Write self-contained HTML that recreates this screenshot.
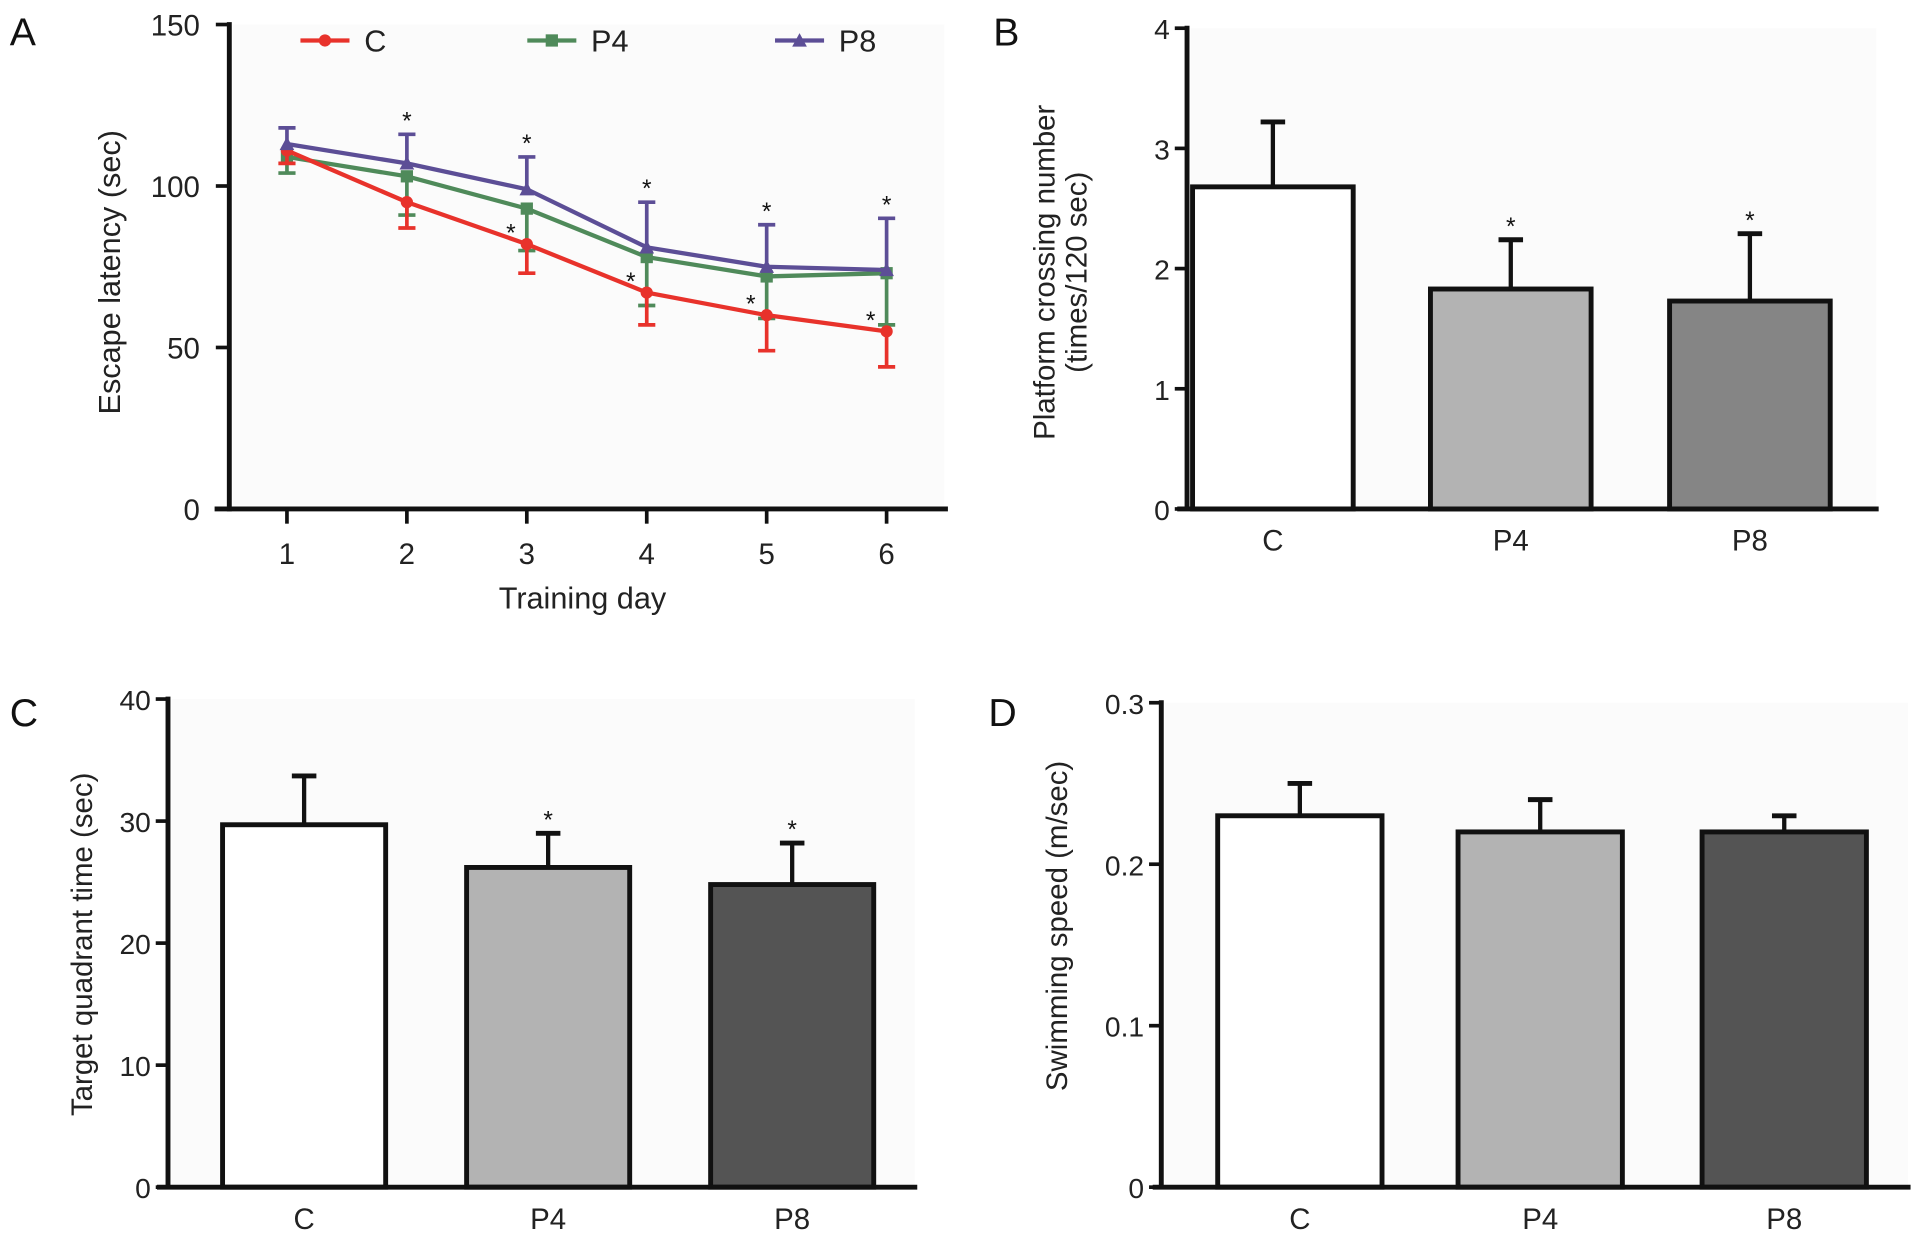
<!DOCTYPE html>
<html><head><meta charset="utf-8"><style>
html,body{margin:0;padding:0;background:#fff;}
svg{display:block;font-family:"Liberation Sans",Arial,sans-serif;}
</style></head><body>
<svg id="fig" width="1913" height="1235" viewBox="0 0 1560 1007" preserveAspectRatio="none" xmlns="http://www.w3.org/2000/svg"></svg>
<script>
// Panel A data
const days = [1,2,3,4,5,6];
const cMean = [111,95,82,67,60,55];
const cErr  = [4,8,9,10,11,11];
const p4Mean = [109,103,93,78,72,73];
const p4Err  = [5,12,13,15,13,16];
const p8Mean = [113,107,99,81,75,74];
const p8Err  = [5,9,10,14,13,16];
const latTicks = [0,50,100,150];
const starsP8Days = [2,3,4,5,6];
const starsCDays = [3,4,5,6];
// Panel B data
const groups = ["C","P4","P8"];
const crossMean = [2.68,1.83,1.73];
const crossErr = [0.54,0.41,0.56];
const crossTicks = [0,1,2,3,4];
const crossStars = [false,true,true];
// Panel C data
const quadMean = [29.7,26.2,24.8];
const quadErr = [4.0,2.8,3.4];
const quadTicks = [0,10,20,30,40];
const quadStars = [false,true,true];
// Panel D data
const speedMean = [0.23,0.22,0.22];
const speedErr = [0.02,0.02,0.01];
const speedTicks = ["0","0.1","0.2","0.3"];
const speedStars = [false,false,false];

const svg = document.getElementById('fig');
const NS = 'http://www.w3.org/2000/svg';
function mk(tag, attrs, parent){const e=document.createElementNS(NS,tag);for(const k in attrs)e.setAttribute(k,attrs[k]);(parent||svg).appendChild(e);return e;}
function txt(s, attrs, parent){const e=mk('text',attrs,parent);e.textContent=s;return e;}

// ---------- Panel A ----------
const A = {x0:187, yTop:20, yBot:415, xs:[234,332,430,527,625,723]};
const ax = d => A.xs[0] + (d-1)*(A.xs[5]-A.xs[0])/5;
const ay = v => A.yBot - v/150*(A.yBot-A.yTop);
const gA = mk('g',{});


mk('rect',{x:190,y:20,width:580,height:392,fill:'#fbfbfb'},gA);
let t = txt('A',{x:8,y:37,'font-size':32,fill:'#111'},gA);

let l = mk('line',{x1:A.x0,y1:A.yTop-2,x2:A.x0,y2:A.yBot+2,stroke:'#111','stroke-width':4},gA);

l = mk('line',{x1:175,y1:A.yBot,x2:773,y2:A.yBot,stroke:'#111','stroke-width':4},gA);

latTicks.forEach(v=>{
  mk('line',{x1:176,y1:ay(v),x2:A.x0,y2:ay(v),stroke:'#111','stroke-width':3},gA);
  const e=txt(String(v),{x:163,y:ay(v)+9,'text-anchor':'end','font-size':24,fill:'#222'},gA);
  
  
});
days.forEach(d=>{
  mk('line',{x1:ax(d),y1:A.yBot,x2:ax(d),y2:A.yBot+12,stroke:'#111','stroke-width':3},gA);
  const e=txt(String(d),{x:ax(d),y:460,'text-anchor':'middle','font-size':24,fill:'#222'},gA);
  
  
});
t=txt('Training day',{x:475,y:496,'text-anchor':'middle','font-size':25,fill:'#222'},gA);

t=txt('Escape latency (sec)',{x:0,y:0,'text-anchor':'middle','font-size':25,fill:'#222',transform:'translate(98,222) rotate(-90)'},gA);


function series(mean, err, dir, color, marker, name){
  const g = mk('g',{},gA);
  
  
  days.forEach((d,i)=>{
    const y2 = ay(mean[i] + dir*err[i]);
    mk('line',{x1:ax(d),y1:ay(mean[i]),x2:ax(d),y2:y2,stroke:color,'stroke-width':3},g);
    mk('line',{x1:ax(d)-7,y1:y2,x2:ax(d)+7,y2:y2,stroke:color,'stroke-width':3},g);
  });
  mk('polyline',{points:days.map((d,i)=>ax(d)+','+ay(mean[i])).join(' '),fill:'none',stroke:color,'stroke-width':3.5},g);
  days.forEach((d,i)=>{
    const x=ax(d), y=ay(mean[i]);
    if(marker==='circle') mk('circle',{cx:x,cy:y,r:5,fill:color},g);
    else if(marker==='square') mk('rect',{x:x-5,y:y-5,width:10,height:10,fill:color},g);
    else mk('polygon',{points:`${x},${y-6} ${x-6},${y+5} ${x+6},${y+5}`,fill:color},g);
  });
}
series(p4Mean,p4Err,-1,'#4f8a5a','square','series-p4');
series(cMean,cErr,-1,'#e8322b','circle','series-c');
series(p8Mean,p8Err,1,'#5c4e96','triangle','series-p8');
starsP8Days.forEach(d=>{
  const i=d-1;
  const e=txt('*',{x:ax(d),y:ay(p8Mean[i]+p8Err[i])-4,'text-anchor':'middle','font-size':20,fill:'#111'},gA);
  
  
});
starsCDays.forEach(d=>{
  const i=d-1;
  const e=txt('*',{x:ax(d)-13,y:ay(cMean[i])-2,'text-anchor':'middle','font-size':20,fill:'#111'},gA);
  
  
});
// legend
[['C','#e8322b','circle',245],['P4','#4f8a5a','square',430],['P8','#5c4e96','triangle',632]].forEach(([n,c,m,x])=>{
  const g=mk('g',{},gA);
  
  
  mk('line',{x1:x,y1:33,x2:x+40,y2:33,stroke:c,'stroke-width':3.5},g);
  const cx=x+20;
  if(m==='circle') mk('circle',{cx:cx,cy:33,r:5,fill:c},g);
  else if(m==='square') mk('rect',{x:cx-5,y:28,width:10,height:10,fill:c},g);
  else mk('polygon',{points:`${cx},27 ${cx-6},38 ${cx+6},38`,fill:c},g);
  txt(n,{x:x+52,y:42,'font-size':25,fill:'#222'},g);
});

// ---------- Bar panels ----------
function barPanel(o){
  const g = mk('g',{});
  
  
  const y = v => o.yBot - v/o.max*(o.yBot-o.yTop);
  mk('rect',{x:o.x0+3,y:o.yTop,width:o.xEnd-o.x0-5,height:o.yBot-o.yTop-2,fill:'#fbfbfb'},g);
  let e=txt(o.letter,{x:o.lx,y:o.ly,'font-size':32,fill:'#111'},g);
  
  o.ticks.forEach(tv=>{
    const v=parseFloat(tv);
    mk('line',{x1:o.x0-10,y1:y(v),x2:o.x0,y2:y(v),stroke:'#111','stroke-width':3},g);
    const e2=txt(String(tv),{x:o.x0-14,y:y(v)+9,'text-anchor':'end','font-size':23,fill:'#222'},g);
    
    
  });
  const bw=o.bw;
  o.mean.forEach((m,i)=>{
    const cx=o.cx[i];
    const top=y(m), et=y(m+o.err[i]);
    mk('line',{x1:cx,y1:top,x2:cx,y2:et,stroke:'#111','stroke-width':3.5},g);
    mk('line',{x1:cx-10,y1:et,x2:cx+10,y2:et,stroke:'#111','stroke-width':4},g);
    const r=mk('rect',{x:cx-bw/2,y:top,width:bw,height:o.yBot-top,fill:o.fills[i],stroke:'#111','stroke-width':4},g);
    
    
    if(o.stars[i]){
      const s=txt('*',{x:cx,y:et-4,'text-anchor':'middle','font-size':20,fill:'#111'},g);
      
      
    }
    const lb=txt(groups[i],{x:cx,y:o.yBot+34,'text-anchor':'middle','font-size':24,fill:'#222'},g);
    
    
  });
  e=mk('line',{x1:o.x0,y1:o.yTop-2,x2:o.x0,y2:o.yBot,stroke:'#111','stroke-width':4},g);
  
  e=mk('line',{x1:o.xStart,y1:o.yBot,x2:o.xEnd,y2:o.yBot,stroke:'#111','stroke-width':4},g);
  
  o.titles.forEach((tt,k)=>{
    const e3=txt(tt,{x:0,y:0,'text-anchor':'middle','font-size':24,fill:'#222',transform:`translate(${o.tx+k*26},${o.ty}) rotate(-90)`},g);
    
    
  });
}
barPanel({name:'panel-b-crossing-chart',letter:'B',lx:810,ly:37,x0:968,yTop:23,yBot:415,max:4,xStart:960,xEnd:1532,
  cx:[1038,1232,1427],bw:131,mean:crossMean,err:crossErr,ticks:crossTicks,stars:crossStars,
  fills:['#ffffff','#b3b3b3','#858585'],titles:['Platform crossing number','(times/120 sec)'],tx:860,ty:222});
barPanel({name:'panel-c-quadrant-chart',letter:'C',lx:8,ly:592,x0:137,yTop:570,yBot:968,max:40,xStart:128,xEnd:748,
  cx:[248,447,646],bw:133,mean:quadMean,err:quadErr,ticks:quadTicks,stars:quadStars,
  fills:['#ffffff','#b3b3b3','#545454'],titles:['Target quadrant time (sec)'],tx:75,ty:770});
barPanel({name:'panel-d-speed-chart',letter:'D',lx:806,ly:592,x0:947,yTop:573,yBot:968,max:0.3,xStart:940,xEnd:1558,
  cx:[1060,1256,1455],bw:134,mean:speedMean,err:speedErr,ticks:speedTicks,stars:speedStars,
  fills:['#ffffff','#b3b3b3','#545454'],titles:['Swimming speed (m/sec)'],tx:870,ty:755});
</script>
</body></html>
